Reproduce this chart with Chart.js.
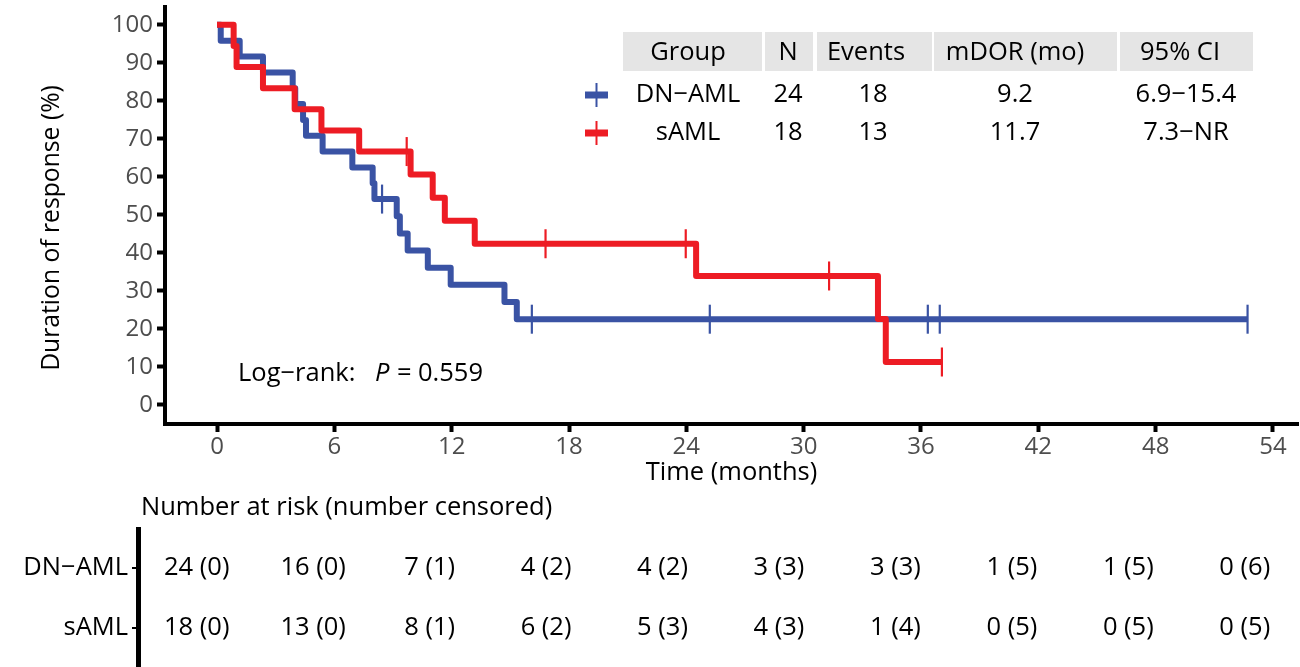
<!DOCTYPE html>
<html><head><meta charset="utf-8">
<script src="https://cdn.jsdelivr.net/npm/chart.js@4.4.1/dist/chart.umd.min.js"></script>
<style>html,body{margin:0;padding:0;background:#fff;}#wrap{width:1300px;height:667px;}</style>
</head><body><div id="wrap"><canvas id="c" width="1300" height="667"></canvas></div>
<script>
const FONT = '"Open Sans", "Noto Sans", sans-serif';
const xTicks = [0, 6, 12, 18, 24, 30, 36, 42, 48, 54];
const yTicks = [0, 10, 20, 30, 40, 50, 60, 70, 80, 90, 100];

// DN-AML Kaplan-Meier steps (time in months, % in response)
const dnTimes = [0, 0.19, 1.16, 2.35, 3.87, 4.0, 4.4, 4.55, 5.4, 6.92, 7.96, 8.05, 9.19, 9.35, 9.75, 10.78, 11.95, 14.7, 15.33, 52.7];
const dnSurv  = [100, 95.83, 91.67, 87.5, 83.33, 79.17, 75.0, 70.83, 66.67, 62.5, 58.33, 54.17, 49.65, 45.14, 40.63, 36.11, 31.6, 27.08, 22.57, 22.57];
const dnCensorTimes = [8.44, 16.1, 25.2, 36.35, 36.96, 52.7];
const dnCensorSurv  = [54.17, 22.57, 22.57, 22.57, 22.57, 22.57];

// sAML Kaplan-Meier steps
const sTimes = [0, 0.85, 1.0, 2.35, 3.97, 5.34, 7.27, 9.9, 11.03, 11.65, 13.18, 24.5, 33.8, 34.2, 37.07];
const sSurv  = [100, 94.44, 88.89, 83.33, 77.78, 72.22, 66.67, 60.61, 54.55, 48.48, 42.42, 33.94, 22.63, 11.31, 11.31];
const sCensorTimes = [9.7, 16.8, 23.97, 31.3, 37.07];
const sCensorSurv  = [66.67, 42.42, 42.42, 33.94, 11.31];

const groupNames = ['DN\u2212AML', 'sAML'];
const tableHeader = ['Group', 'N', 'Events', 'mDOR (mo)', '95% CI'];
const groupN = ['24', '18'];
const groupEvents = ['18', '13'];
const groupMDOR = ['9.2', '11.7'];
const groupCI = ['6.9\u221215.4', '7.3\u2212NR'];

const riskTimes = [0, 6, 12, 18, 24, 30, 36, 42, 48, 54];
const dnRisk = ['24 (0)', '16 (0)', '7 (1)', '4 (2)', '4 (2)', '3 (3)', '3 (3)', '1 (5)', '1 (5)', '0 (6)'];
const sRisk  = ['18 (0)', '13 (0)', '8 (1)', '6 (2)', '5 (3)', '4 (3)', '1 (4)', '0 (5)', '0 (5)', '0 (5)'];

const BLUE = '#3A53A4';
const RED = '#ED1C24';
const GRAY = '#4D4D4D';
const FS = 25.5;
const TFS = 24;

const toXY = (ts, vs) => ts.map((t, i) => ({x: t, y: vs[i]}));

const overlay = {
  id: 'overlay',
  afterDraw(chart) {
    const ctx = chart.ctx;
    const xs = chart.scales.x;
    ctx.save();
    const f = (sz, st) => (st ? st + ' ' : '') + sz + 'px ' + FONT;
    ctx.textBaseline = 'middle';

    // ---- y axis title ----
    ctx.save();
    ctx.translate(52, 228);
    ctx.rotate(-Math.PI / 2);
    ctx.textAlign = 'center';
    ctx.fillStyle = '#000';
    ctx.font = f(24.7);
    ctx.fillText('Duration of response (%)', 0, 0);
    ctx.restore();

    // ---- legend table ----
    const boxes = [[623, 762], [765, 813], [817, 932], [934, 1117], [1120, 1253]];
    const centers = [688, 788, 866, 1015, 1180];
    ctx.fillStyle = '#E5E5E5';
    boxes.forEach(b => ctx.fillRect(b[0], 32, b[1] - b[0], 39));
    ctx.fillStyle = '#000';
    ctx.font = f(FS);
    ctx.textAlign = 'center';
    tableHeader.forEach((h, i) => ctx.fillText(h, centers[i], 53));
    const rowsY = [95, 133];
    const cols = [groupNames, groupN, groupEvents, groupMDOR, groupCI];
    [BLUE, RED].forEach((col, r) => {
      cols.forEach((c, i) => {
        const cx = i === 2 ? 873 : (i === 4 ? 1186 : centers[i]);
        ctx.fillText(c[r], cx, rowsY[r]);
      });
      ctx.strokeStyle = col;
      ctx.lineWidth = 7;
      ctx.beginPath(); ctx.moveTo(585, rowsY[r]); ctx.lineTo(608, rowsY[r]); ctx.stroke();
      ctx.lineWidth = 2;
      ctx.beginPath(); ctx.moveTo(596.5, rowsY[r] - 12); ctx.lineTo(596.5, rowsY[r] + 12); ctx.stroke();
    });

    // ---- log-rank text ----
    ctx.textAlign = 'left';
    ctx.font = f(FS);
    ctx.fillText('Log\u2212rank:', 238, 374);
    ctx.font = f(FS, 'italic');
    ctx.fillText('P', 375, 374);
    ctx.font = f(FS);
    ctx.fillText('=', 397, 374);
    ctx.fillText('0.559', 418, 374);

    // ---- risk table ----
    ctx.font = f(FS);
    ctx.fillText('Number at risk (number censored)', 141, 508);
    ctx.strokeStyle = '#000';
    ctx.lineWidth = 5;
    ctx.beginPath(); ctx.moveTo(138.5, 527); ctx.lineTo(138.5, 667); ctx.stroke();
    const riskY = [568, 628];
    ctx.lineWidth = 2;
    riskY.forEach(y => { ctx.beginPath(); ctx.moveTo(132, y); ctx.lineTo(138, y); ctx.stroke(); });
    ctx.textAlign = 'right';
    groupNames.forEach((g, r) => ctx.fillText(g, 128, riskY[r]));
    ctx.textAlign = 'center';
    [dnRisk, sRisk].forEach((row, r) => {
      row.forEach((v, i) => {
        const px = xs.getPixelForValue(riskTimes[i] * 0.9925) - 20.3;
        ctx.fillText(v, px, riskY[r]);
      });
    });
    ctx.restore();
  }
};

new Chart(document.getElementById('c'), {
  type: 'line',
  data: {
    datasets: [
      {label: 'DN-AML', data: toXY(dnTimes, dnSurv), borderColor: BLUE, borderWidth: 6, stepped: true, pointRadius: 0, fill: false, order: 4, borderJoinStyle: 'round'},
      {label: 'sAML', data: toXY(sTimes, sSurv), borderColor: RED, borderWidth: 6, stepped: true, pointRadius: 0, fill: false, order: 3, borderJoinStyle: 'round'},
      {type: 'scatter', label: 'DN-AML censored', data: toXY(dnCensorTimes, dnCensorSurv), showLine: false, pointStyle: 'line', rotation: 90, radius: 14.5, borderColor: BLUE, borderWidth: 2.2, order: 2},
      {type: 'scatter', label: 'sAML censored', data: toXY(sCensorTimes, sCensorSurv), showLine: false, pointStyle: 'line', rotation: 90, radius: 14.5, borderColor: RED, borderWidth: 2.2, order: 1}
    ]
  },
  options: {
    responsive: false,
    animation: false,
    layout: {autoPadding: false, padding: {left: 0, right: 2, top: 7, bottom: 179}},
    plugins: {legend: {display: false}, tooltip: {enabled: false}},
    scales: {
      x: {
        type: 'linear', min: -2.66, max: 55.28,
        afterBuildTicks: s => { s.ticks = xTicks.map(v => ({value: v})); },
        afterFit: s => { s.height = 64; s.paddingLeft = 0; s.paddingRight = 0; },
        ticks: {color: GRAY, font: {family: FONT, size: TFS}, padding: 1, maxRotation: 0, autoSkip: false},
        grid: {drawOnChartArea: false, drawTicks: true, tickLength: 8, tickWidth: 4, tickColor: '#000'},
        border: {display: true, color: '#000', width: 4},
        title: {display: true, text: 'Time (months)', color: '#000', font: {family: FONT, size: FS}, padding: {top: 0, bottom: 0}}
      },
      y: {
        type: 'linear', min: -5, max: 104.7,
        afterBuildTicks: s => { s.ticks = yTicks.map(v => ({value: v})); },
        afterFit: s => { s.width = 165; s.paddingTop = 0; s.paddingBottom = 0; },
        ticks: {color: GRAY, font: {family: FONT, size: TFS}, padding: 4, autoSkip: false},
        grid: {drawOnChartArea: false, drawTicks: true, tickLength: 8, tickWidth: 4, tickColor: '#000'},
        border: {display: true, color: '#000', width: 4},
        title: {display: false}
      }
    }
  },
  plugins: [overlay]
});
</script></body></html>
